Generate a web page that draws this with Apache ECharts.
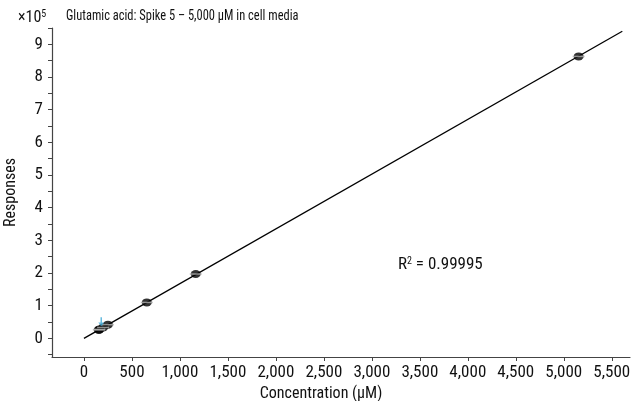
<!DOCTYPE html>
<html>
<head>
<meta charset="utf-8">
<script src="https://cdn.jsdelivr.net/npm/echarts@6/dist/echarts.min.js"></script>
<style>
  html, body { margin: 0; padding: 0; background: #fff; }
  #chart { width: 632px; height: 401px; }
</style>
</head>
<body>
<div id="chart"></div>
<script>
// Calibration standards: spiked concentration (µM) vs. instrument response
const standardConc = [155, 160, 200, 250, 655, 1165, 5155];
const standardResp = [26000, 27500, 33500, 42000, 110000, 197000, 863000];

// Fitted calibration line end points
const fitConc = [0, 5610];
const fitResp = [0, 940000];

// Endogenous level marker
const markerConc = [180];
const markerResp = [51000];

// Axis ticks and labels
const xTicks = [0, 500, 1000, 1500, 2000, 2500, 3000, 3500, 4000, 4500, 5000, 5500];
const yLabelTicks = [0, 100000, 200000, 300000, 400000, 500000, 600000, 700000, 800000, 900000];
const yTicks = [-50000, 0, 50000, 100000, 150000, 200000, 250000, 300000, 350000, 400000, 450000,
  500000, 550000, 600000, 650000, 700000, 750000, 800000, 850000, 900000, 950000];

const titleText = 'Glutamic acid: Spike 5 \u2013 5,000 \u00b5M in cell media';
const r2Text = '0.99995';

const FONT = '"Roboto Condensed", "DejaVu Sans Condensed", sans-serif';

const pair = (xs, ys) => xs.map((x, i) => [x, ys[i]]);

const chart = echarts.init(document.getElementById('chart'), null, { renderer: 'canvas' });

chart.setOption({
  animation: false,
  backgroundColor: '#fff',
  grid: { left: 52, right: 2, top: 28, bottom: 44, containLabel: false, outerBoundsMode: 'none' },
  xAxis: {
    type: 'value',
    min: -333,
    max: 5690,
    name: 'Concentration (\u00b5M)',
    nameLocation: 'middle',
    nameGap: 26,
    nameTextStyle: { fontFamily: FONT, fontSize: 16, color: '#111', padding: [0, 40, 0, 0] },
    axisLine: { show: true, onZero: false, lineStyle: { color: '#444', width: 1.2 } },
    axisTick: { show: true, length: 4, customValues: xTicks, lineStyle: { color: '#444' } },
    axisLabel: {
      customValues: xTicks,
      margin: 7,
      fontFamily: FONT, fontSize: 17, color: '#111',
      formatter: v => v.toLocaleString('en-US')
    },
    splitLine: { show: false }
  },
  yAxis: {
    type: 'value',
    min: -57000,
    max: 950000,
    name: 'Responses',
    nameLocation: 'middle',
    nameGap: 33,
    nameTextStyle: { fontFamily: FONT, fontSize: 16, color: '#111' },
    axisLine: { show: true, onZero: false, lineStyle: { color: '#444', width: 1.2 } },
    axisTick: { show: true, length: 4, customValues: yTicks, lineStyle: { color: '#444' } },
    axisLabel: {
      customValues: yLabelTicks,
      margin: 9,
      fontFamily: FONT, fontSize: 17, color: '#111',
      formatter: v => String(Math.round(v / 100000))
    },
    splitLine: { show: false }
  },
  series: [
    {
      type: 'line',
      data: pair(fitConc, fitResp),
      symbol: 'none',
      lineStyle: { color: '#000', width: 1.3 },
      z: 2
    },
    {
      type: 'scatter',
      data: pair(standardConc, standardResp),
      symbol: 'circle',
      symbolSize: [10, 8],
      itemStyle: { color: '#000' },
      z: 3
    },
    {
      type: 'scatter',
      data: pair(standardConc, standardResp),
      symbol: 'rect',
      symbolSize: [12, 1.5],
      itemStyle: { color: '#b0b0b0' },
      z: 4
    },
    {
      type: 'scatter',
      data: pair(markerConc, markerResp),
      symbol: 'path://M3,0 H5 V6 H8 L4,10 L0,6 H3 Z',
      symbolSize: [6, 9],
      itemStyle: { color: '#3fa9d6' },
      z: 5
    }
  ],
  graphic: [
    {
      type: 'text', left: 18, top: 9,
      style: {
        text: '{b|\u00d710}{s|5}',
        rich: {
          b: { fontFamily: FONT, fontSize: 16, fill: '#111' },
          s: { fontFamily: FONT, fontSize: 10, fill: '#111', verticalAlign: 'top', padding: [0, 0, 8, 0] }
        }
      }
    },
    {
      type: 'text', x: 66, y: 9, scaleX: 0.89,
      style: { text: titleText, fontFamily: FONT, fontSize: 14, fill: '#111' }
    },
    {
      type: 'text', left: 398, top: 256,
      style: {
        text: '{b|R}{s|2}{b| = ' + r2Text + '}',
        rich: {
          b: { fontFamily: FONT, fontSize: 17, fill: '#111' },
          s: { fontFamily: FONT, fontSize: 10, fill: '#111', verticalAlign: 'top', padding: [0, 0, 8, 0] }
        }
      }
    }
  ]
});
</script>
</body>
</html>
